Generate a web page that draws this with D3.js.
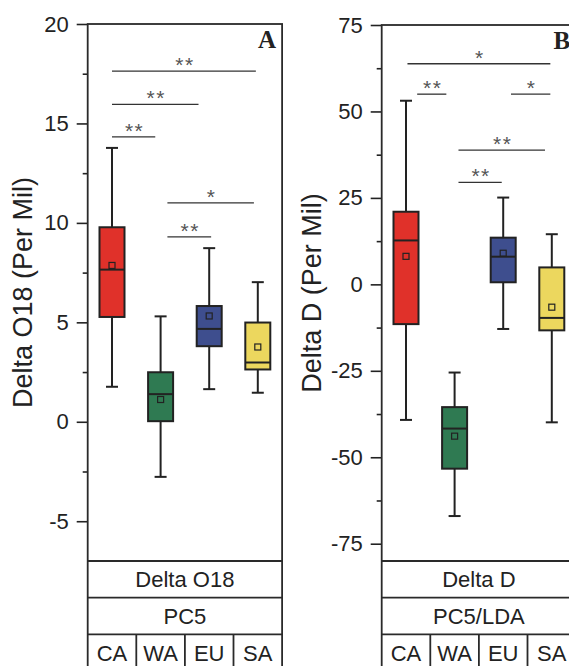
<!DOCTYPE html>
<html>
<head>
<meta charset="utf-8">
<script src="https://cdn.jsdelivr.net/npm/d3@7"></script>
<style>
  body { margin: 0; background: #fff; }
  svg { display: block; }
  text { font-family: Arial, "Liberation Sans", Helvetica, sans-serif; fill: #222; }
</style>
</head>
<body>
<svg id="chart" width="569" height="666"></svg>
<script>
// groups shown in both panels
const groups = ['CA', 'WA', 'EU', 'SA'];
const boxColors = ['#e0312a', '#2f7a52', '#3e4e8e', '#ecd75e'];

// Delta O18 box statistics (per mil)
const o18Min = [1.76, -2.77, 1.64, 1.46];
const o18Q1 = [5.27, 0.03, 3.80, 2.63];
const o18Median = [7.65, 1.39, 4.67, 2.98];
const o18Q3 = [9.78, 2.49, 5.82, 4.99];
const o18Max = [13.77, 5.30, 8.73, 7.02];
const o18Mean = [7.86, 1.12, 5.32, 3.76];
const o18Ticks = [-5, 0, 5, 10, 15, 20];
const o18Minor = [-2.5, 2.5, 7.5, 12.5, 17.5];

// Delta O18 significance bars (x in group index units)
const o18SigFrom = [0, 0, 0, 1.14, 1.14];
const o18SigTo = [2.96, 1.78, 0.89, 2.92, 2.04];
const o18SigY = [17.63, 15.96, 14.32, 11.01, 9.30];
const o18SigLabel = ['**', '**', '**', '*', '**'];

// Delta D box statistics (per mil)
const dMin = [-39.2, -67.0, -12.9, -39.9];
const dQ1 = [-11.5, -53.3, 0.6, -13.3];
const dMedian = [12.7, -41.7, 8.0, -9.7];
const dQ3 = [21.0, -35.5, 13.5, 4.9];
const dMax = [53.1, -25.5, 25.1, 14.5];
const dMean = [8.1, -43.9, 9.0, -6.6];
const dTicks = [-75, -50, -25, 0, 25, 50, 75];
const dMinor = [-62.5, -37.5, -12.5, 12.5, 37.5, 62.5];

// Delta D significance bars
const dSigFrom = [0.03, 0.23, 2.16, 1.08, 1.08];
const dSigTo = [2.97, 0.83, 2.97, 2.86, 1.97];
const dSigY = [63.8, 55.0, 55.0, 38.8, 29.5];
const dSigLabel = ['*', '**', '*', '**', '**'];

const svg = d3.select('#chart');
const plotBottom = 561, rowH = 36.7, panelW = 194.4;

const panels = [
  {
    left: 87.7, top: 24, domain: [-7, 20], ticks: o18Ticks, minor: o18Minor,
    min: o18Min, q1: o18Q1, median: o18Median, q3: o18Q3, max: o18Max, mean: o18Mean,
    sigFrom: o18SigFrom, sigTo: o18SigTo, sigY: o18SigY, sigLabel: o18SigLabel,
    title: 'Delta O18 (Per Mil)', titleX: 32, letter: 'A', rows: ['Delta O18', 'PC5']
  },
  {
    left: 381.7, top: 25, domain: [-80, 75], ticks: dTicks, minor: dMinor,
    min: dMin, q1: dQ1, median: dMedian, q3: dQ3, max: dMax, mean: dMean,
    sigFrom: dSigFrom, sigTo: dSigTo, sigY: dSigY, sigLabel: dSigLabel,
    title: 'Delta D (Per Mil)', titleX: 321, letter: 'B', rows: ['Delta D', 'PC5/LDA']
  }
];

panels.forEach(p => drawPanel(p));

function drawPanel(p) {
  const right = p.left + panelW;
  const g = svg.append('g');

  const x = d3.scaleBand().domain(groups).range([p.left, right]).padding(0);
  const cx = d => x(d) + x.bandwidth() / 2;
  const xi = d3.scaleLinear().domain([0, groups.length - 1]).range([cx(groups[0]), cx(groups[groups.length - 1])]);
  const y = d3.scaleLinear().domain(p.domain).range([plotBottom, p.top]);

  // axis ticks
  const major = g.append('g')
    .attr('transform', `translate(${p.left},0)`)
    .call(d3.axisLeft(y).tickValues(p.ticks).tickSize(11).tickPadding(8).tickFormat(d => String(d)));
  major.select('.domain').remove();
  major.selectAll('line').attr('stroke', '#222').attr('stroke-width', 1.6);
  major.selectAll('text').attr('font-size', 22).attr('fill', '#222');

  const minor = g.append('g')
    .attr('transform', `translate(${p.left},0)`)
    .call(d3.axisLeft(y).tickValues(p.minor).tickSize(5).tickFormat(''));
  minor.select('.domain').remove();
  minor.selectAll('line').attr('stroke', '#222').attr('stroke-width', 1.6);

  // y title
  g.append('text')
    .attr('transform', `translate(${p.titleX},${(p.top + plotBottom) / 2}) rotate(-90)`)
    .attr('text-anchor', 'middle')
    .attr('font-size', 27)
    .text(p.title);

  // significance bars
  p.sigY.forEach((v, i) => {
    g.append('line')
      .attr('x1', xi(p.sigFrom[i])).attr('x2', xi(p.sigTo[i]))
      .attr('y1', y(v)).attr('y2', y(v))
      .attr('stroke', '#333').attr('stroke-width', 1.3);
    g.append('text')
      .attr('x', (xi(p.sigFrom[i]) + xi(p.sigTo[i])) / 2 + 1)
      .attr('y', y(v) + 1)
      .attr('text-anchor', 'middle')
      .attr('font-size', 21)
      .attr('letter-spacing', 1.5)
      .style('fill', '#555')
      .text(p.sigLabel[i]);
  });

  // boxes
  const boxW = 25, capW = 12;
  groups.forEach((grp, i) => {
    const c = cx(grp);
    const bg = g.append('g');
    // whiskers
    bg.append('line').attr('x1', c).attr('x2', c).attr('y1', y(p.q3[i])).attr('y2', y(p.max[i]));
    bg.append('line').attr('x1', c).attr('x2', c).attr('y1', y(p.q1[i])).attr('y2', y(p.min[i]));
    bg.append('line').attr('x1', c - capW / 2).attr('x2', c + capW / 2).attr('y1', y(p.max[i])).attr('y2', y(p.max[i]));
    bg.append('line').attr('x1', c - capW / 2).attr('x2', c + capW / 2).attr('y1', y(p.min[i])).attr('y2', y(p.min[i]));
    bg.selectAll('line').attr('stroke', '#222').attr('stroke-width', 2);
    bg.append('rect')
      .attr('x', c - boxW / 2).attr('width', boxW)
      .attr('y', y(p.q3[i])).attr('height', y(p.q1[i]) - y(p.q3[i]))
      .attr('fill', boxColors[i]).attr('stroke', '#222').attr('stroke-width', 2);
    bg.append('line')
      .attr('x1', c - boxW / 2).attr('x2', c + boxW / 2)
      .attr('y1', y(p.median[i])).attr('y2', y(p.median[i]))
      .attr('stroke', '#222').attr('stroke-width', 2);
    bg.append('rect')
      .attr('x', c - 3).attr('y', y(p.mean[i]) - 3)
      .attr('width', 6).attr('height', 6)
      .attr('fill', 'none').attr('stroke', '#222').attr('stroke-width', 1.2);
  });

  // panel letter
  g.append('text')
    .attr('x', right - 6).attr('y', p.top + 24)
    .attr('text-anchor', 'end')
    .style('font-family', '"Liberation Serif", "DejaVu Serif", serif')
    .attr('font-weight', 'bold')
    .attr('font-size', 25)
    .text(p.letter);

  // frame and table
  const frame = g.append('g').attr('fill', 'none').attr('stroke', '#2a2a2a').attr('stroke-width', 1.8);
  const tableBottom = plotBottom + rowH * 3;
  frame.append('rect').attr('x', p.left).attr('y', p.top).attr('width', panelW).attr('height', tableBottom - p.top);
  [plotBottom, plotBottom + rowH, plotBottom + rowH * 2].forEach(yy => {
    frame.append('line').attr('x1', p.left).attr('x2', right).attr('y1', yy).attr('y2', yy);
  });
  groups.slice(1).forEach(grp => {
    frame.append('line').attr('x1', x(grp)).attr('x2', x(grp))
      .attr('y1', plotBottom + rowH * 2).attr('y2', tableBottom);
  });

  p.rows.forEach((r, k) => {
    g.append('text')
      .attr('x', p.left + panelW / 2)
      .attr('y', plotBottom + rowH * k + rowH / 2 + 8)
      .attr('text-anchor', 'middle')
      .attr('font-size', 22)
      .text(r);
  });
  groups.forEach(grp => {
    g.append('text')
      .attr('x', cx(grp))
      .attr('y', plotBottom + rowH * 2 + rowH / 2 + 8)
      .attr('text-anchor', 'middle')
      .attr('font-size', 22)
      .text(grp);
  });
}
</script>
</body>
</html>
